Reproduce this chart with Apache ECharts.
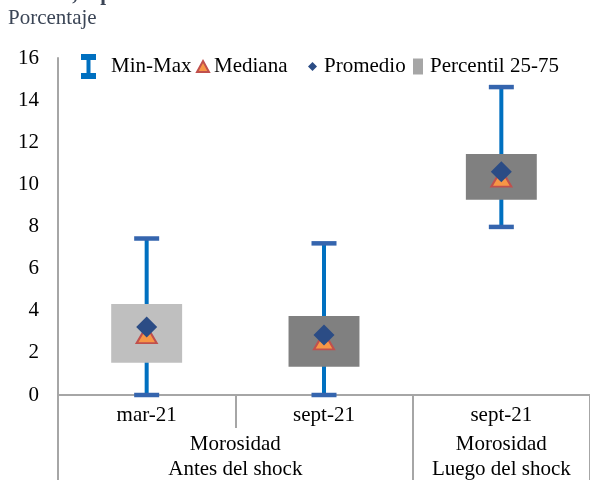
<!DOCTYPE html>
<html>
<head>
<meta charset="utf-8">
<script src="https://cdn.jsdelivr.net/npm/echarts@6/dist/echarts.min.js"></script>
<style>
  html, body { margin: 0; padding: 0; background: #ffffff; }
  #chart { width: 590px; height: 480px; }
</style>
</head>
<body>
<div id="chart"></div>
<script>
// Inner category level and outer group level of the x axis
const categories = ['mar-21', 'sept-21', 'sept-21'];
const groupLabels = ['Morosidad\nAntes del shock', 'Morosidad\nLuego del shock'];

// Distribution summary per category (percent)
const minValues = [0, 0, 7.98];
const maxValues = [7.43, 7.2, 14.62];
const p25Values = [1.53, 1.34, 9.27];
const p75Values = [4.32, 3.75, 11.44];
const medianValues = [2.87, 2.57, 10.3];
const meanValues = [3.23, 2.85, 10.6];

// Y axis ticks
const yMin = 0;
const yMax = 16;
const yInterval = 2;

const FONT = '"Liberation Serif", "DejaVu Serif", serif';
const AXIS_GRAY = '#A6A6A6';
const boxColors = ['#BFBFBF', '#808080', '#808080'];

// Outer level: 7 positions spanning the axis, boundaries at 0, 4, 6, labels at 2 and 5
const outerSlots = ['', '', groupLabels[0], '', '', groupLabels[1], ''];
const outerTickAt = [0, 4, 6];
const outerLabelAt = [2, 5];

const rangeData = categories.map((c, i) => [i, minValues[i], maxValues[i]]);
const boxData = categories.map((c, i) => [i, p25Values[i], p75Values[i]]);
const medianData = categories.map((c, i) => [i, medianValues[i]]);
const meanData = categories.map((c, i) => [i, meanValues[i]]);

const chart = echarts.init(document.getElementById('chart'), null, { renderer: 'canvas' });

const baseLegend = {
  orient: 'horizontal',
  selectedMode: false,
  itemGap: 0,
  padding: 0,
  textStyle: { fontFamily: FONT, fontSize: 21, color: '#000000' }
};

chart.setOption({
  animation: false,
  backgroundColor: '#ffffff',
  title: {
    text: 'Porcentaje',
    left: 8,
    top: 8,
    padding: 0,
    textStyle: { fontFamily: FONT, fontSize: 21, fontWeight: 'normal', color: '#3B4556' }
  },
  graphic: [{
    type: 'text',
    left: 8,
    top: -16,
    style: { text: 'Bancos, septiembre 2021', fontFamily: FONT, fontSize: 21, fontWeight: 'bold', fill: '#3B4556' }
  }],
  legend: [
    Object.assign({}, baseLegend, {
      left: 81, top: 54, itemWidth: 15, itemHeight: 25,
      data: [{ name: 'Min-Max', icon: 'path://M0,0H15V6H9.5V19H15V25H0V19H5.5V6H0Z' }],
      textStyle: Object.assign({}, baseLegend.textStyle, { padding: [0, 0, 0, 10] })
    }),
    Object.assign({}, baseLegend, {
      left: 196, top: 56, itemWidth: 12, itemHeight: 11,
      data: [{ name: 'Mediana', icon: 'triangle' }]
    }),
    Object.assign({}, baseLegend, {
      left: 308, top: 56, itemWidth: 9, itemHeight: 9,
      data: [{ name: 'Promedio', icon: 'diamond' }],
      textStyle: Object.assign({}, baseLegend.textStyle, { padding: [0, 0, 0, 2] })
    }),
    Object.assign({}, baseLegend, {
      left: 413, top: 56, itemWidth: 10, itemHeight: 16,
      data: [{ name: 'Percentil 25-75', icon: 'rect' }],
      textStyle: Object.assign({}, baseLegend.textStyle, { padding: [0, 0, 0, 2] })
    })
  ],
  grid: { left: 58, right: 0, top: 58, bottom: 85, containLabel: false, outerBoundsMode: 'none' },
  xAxis: [
    {
      type: 'category',
      data: categories,
      position: 'bottom',
      boundaryGap: true,
      axisLine: { show: true, lineStyle: { color: AXIS_GRAY, width: 2 } },
      axisTick: { show: true, interval: 0, length: 33, lineStyle: { color: AXIS_GRAY, width: 2 } },
      axisLabel: { interval: 0, margin: 10, fontFamily: FONT, fontSize: 21, color: '#000000' },
      splitLine: { show: false }
    },
    {
      type: 'category',
      data: outerSlots,
      position: 'bottom',
      boundaryGap: false,
      axisLine: { show: false },
      axisTick: {
        show: true,
        length: 90,
        interval: (idx) => outerTickAt.indexOf(idx) >= 0,
        lineStyle: { color: AXIS_GRAY, width: 2 }
      },
      axisLabel: {
        interval: (idx) => outerLabelAt.indexOf(idx) >= 0,
        margin: 37,
        fontFamily: FONT,
        fontSize: 21,
        lineHeight: 25,
        color: '#000000'
      },
      splitLine: { show: false }
    }
  ],
  yAxis: {
    type: 'value',
    min: yMin,
    max: yMax,
    interval: yInterval,
    axisLine: { show: true, lineStyle: { color: AXIS_GRAY, width: 2 } },
    axisTick: { show: false },
    axisLabel: { margin: 19, fontFamily: FONT, fontSize: 21, color: '#000000' },
    splitLine: { show: false }
  },
  series: [
    {
      name: 'Min-Max',
      type: 'custom',
      xAxisIndex: 0,
      itemStyle: { color: '#0070C0' },
      data: rangeData,
      z: 2,
      renderItem: function (params, api) {
        const x = api.value(0);
        const top = api.coord([x, api.value(2)]);
        const bottom = api.coord([x, api.value(1)]);
        const capW = 25, capH = 4.5;
        return {
          type: 'group',
          children: [
            {
              type: 'line',
              shape: { x1: top[0], y1: top[1], x2: bottom[0], y2: bottom[1] },
              style: { stroke: '#0070C0', lineWidth: 4 }
            },
            {
              type: 'rect',
              shape: { x: top[0] - capW / 2, y: top[1] - capH / 2, width: capW, height: capH },
              style: { fill: '#3565AE' }
            },
            {
              type: 'rect',
              shape: { x: bottom[0] - capW / 2, y: bottom[1] - capH / 2, width: capW, height: capH },
              style: { fill: '#3565AE' }
            }
          ]
        };
      }
    },
    {
      name: 'Percentil 25-75',
      type: 'custom',
      xAxisIndex: 0,
      itemStyle: { color: '#A6A6A6' },
      data: boxData,
      z: 3,
      renderItem: function (params, api) {
        const x = api.value(0);
        const hi = api.coord([x, api.value(2)]);
        const lo = api.coord([x, api.value(1)]);
        const w = api.size([1, 0])[0] * 0.4;
        return {
          type: 'rect',
          shape: { x: hi[0] - w / 2, y: hi[1], width: w, height: lo[1] - hi[1] },
          style: { fill: boxColors[params.dataIndex] }
        };
      }
    },
    {
      name: 'Mediana',
      type: 'scatter',
      xAxisIndex: 0,
      symbol: 'triangle',
      symbolSize: [20, 17],
      itemStyle: { color: '#F79646', borderColor: '#C0504D', borderWidth: 2, opacity: 1 },
      data: medianData,
      z: 4
    },
    {
      name: 'Promedio',
      type: 'scatter',
      xAxisIndex: 0,
      symbol: 'diamond',
      symbolSize: [21, 21],
      itemStyle: { color: '#2B4C85', opacity: 1 },
      data: meanData,
      z: 5
    }
  ]
});
</script>
</body>
</html>
